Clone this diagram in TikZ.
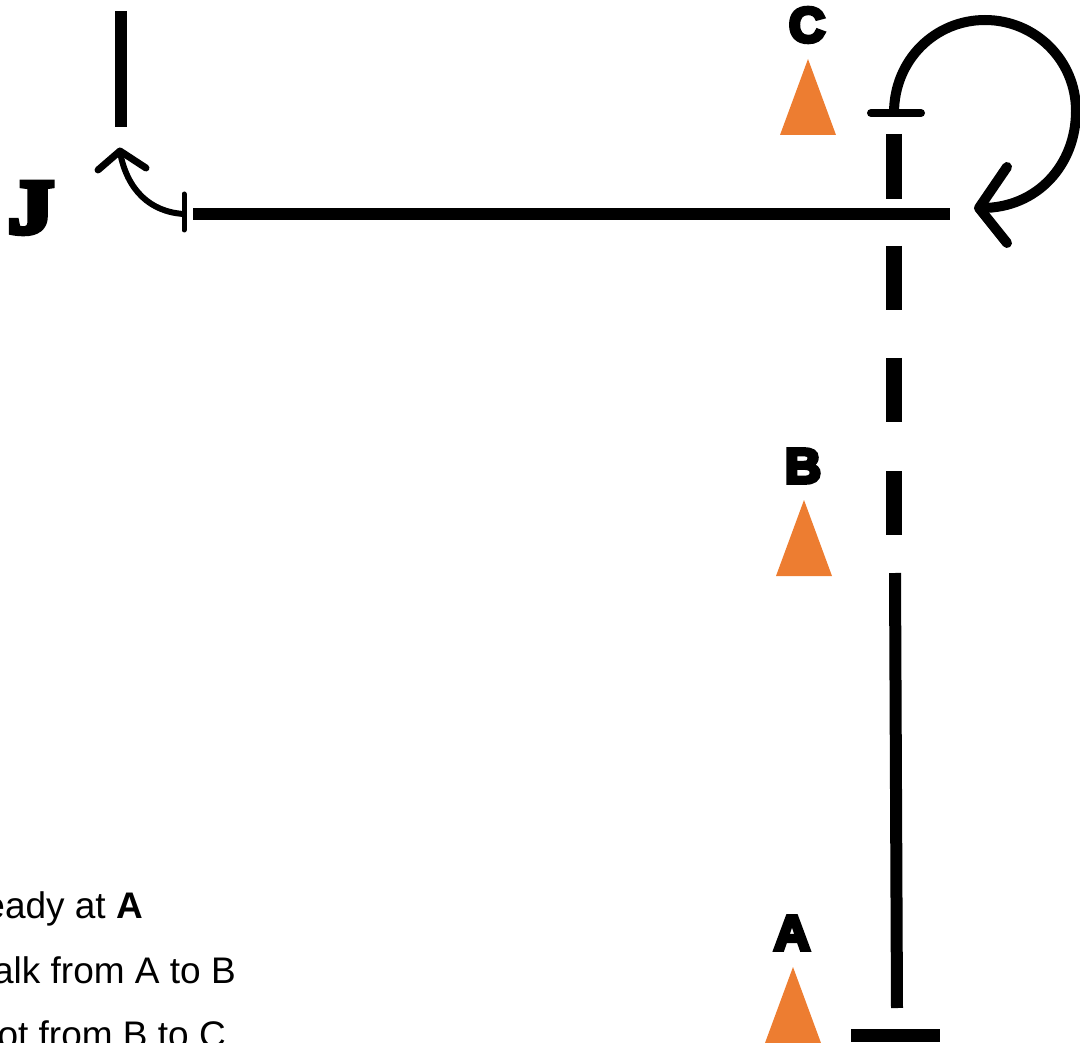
\documentclass[tikz,border=0pt]{standalone}
\usepackage{fontspec}
\setmainfont{Liberation Sans}
\newfontfamily\heavysans[FakeBold=8,FakeStretch=1.02]{Liberation Sans Bold}
\newfontfamily\heavyserif[FakeBold=8,FakeStretch=1.22]{Liberation Serif Bold}
\definecolor{cone}{HTML}{ED7D31}
\tikzset{
  x=1pt,y=-1pt,
  thickbar/.style={line width=12pt},
  dashbar/.style={line width=16pt},
  roundline/.style={line width=#1pt,line cap=round,line join=round},
  conemark/.style={fill=cone,draw=none},
  letter/.style={inner sep=0pt,text=black},
  legend/.style={inner sep=0pt,anchor=base east,font=\fontsize{37}{37}\selectfont}
}
\begin{document}
\begin{tikzpicture}
\path[use as bounding box] (0,0) rectangle (1080,1043);
\clip (0,0) rectangle (1080,1043);
% cones
\fill[conemark] (808,59) -- (836,135) -- (780,135) -- cycle;
\fill[conemark] (804,500) -- (832,576) -- (776,576) -- cycle;
\fill[conemark] (793,967) -- (821,1043) -- (765,1043) -- cycle;
% lines
\coordinate (p1) at (121,11); \coordinate (p2) at (121,127);
\draw[thickbar] (p1) -- (p2);
\coordinate (h1) at (193,214); \coordinate (h2) at (950,214);
\draw[thickbar] (h1) -- (h2);
\foreach \a/\b in {134/199,246/310,358/422,471/535}
  \draw[dashbar] (894,\a) -- (894,\b);
\draw[thickbar] (895,573) -- (897,1008);
\draw[line width=13pt] (851,1035) -- (940,1035);
% small curved arrow
\draw[roundline=5] (184,194) -- (184,230);
\draw[roundline=6] (184,214) .. controls (150,212) and (127,190) .. (120,152);
\draw[roundline=7] (98,170) -- (120,151) -- (146,168);
% big loop arrow
\draw[roundline=8] (871,113) -- (921,113);
\draw[line width=10pt] (894,113) .. controls (894,60) and (935,20) .. (985,20)
   .. controls (1035,20) and (1076,60) .. (1076,111)
   .. controls (1076,165) and (1037,208) .. (982,208);
\draw[roundline=10] (1007,167) -- (979,208) -- (1007,243);
% labels
\node[letter] (C) at (807,25) {\fontsize{49}{49}\heavysans C};
\node[letter] (B) at (803,466) {\fontsize{49}{49}\heavysans B};
\node[letter] (A) at (792,933) {\fontsize{49}{49}\heavysans A};
\node[letter] (J) at (31,208) {\fontsize{76}{76}\heavyserif J};
% legend text
\node[legend] (t1) at (143,918) {eady at \textbf{A}};
\node[legend] (t2) at (236,983) {alk from A to B};
\node[legend] (t3) at (226,1047) {ot from B to C};
\end{tikzpicture}
\end{document}
